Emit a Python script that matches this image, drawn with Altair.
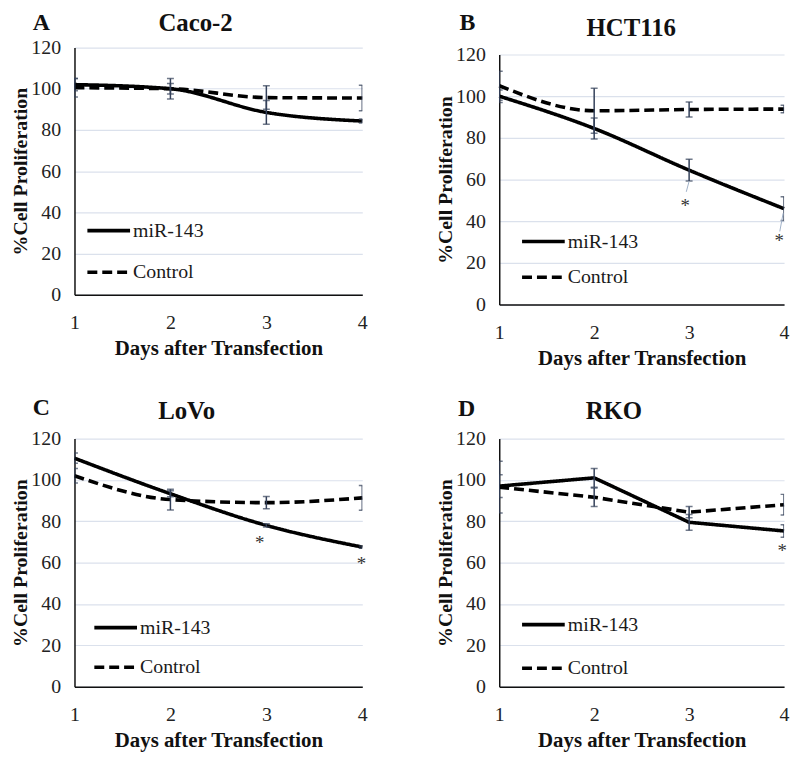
import altair as alt
import pandas as pd

SERIF = "Liberation Serif"
ERR_COLOR = "#34415a"

days = [1, 2, 3, 4]
series_names = ["miR-143", "Control"]
y_ticks = [0, 20, 40, 60, 80, 100, 120]

# Caco-2
caco_mir = [102.0, 100.0, 88.5, 84.3]
caco_mir_err = [3.0, 2.5, 5.8, 1.0]
caco_ctl = [100.5, 100.0, 95.7, 95.5]
caco_ctl_err = [4.5, 5.0, 5.7, 6.2]

# HCT116
hct_mir = [100.0, 84.5, 64.5, 46.0]
hct_mir_err = [3.0, 5.0, 5.2, 5.7]
hct_ctl = [105.0, 93.0, 93.6, 93.8]
hct_ctl_err = [7.0, 10.8, 3.6, 1.8]

# LoVo
lovo_mir = [110.5, 93.3, 78.0, 67.5]
lovo_mir_err = [2.5, 1.5, 0.8, 0.5]
lovo_ctl = [102.0, 90.5, 89.0, 91.3]
lovo_ctl_err = [3.5, 5.0, 3.0, 6.0]

# RKO
rko_mir = [97.0, 101.0, 79.5, 75.3]
rko_mir_err = [5.5, 4.5, 3.8, 3.0]
rko_ctl = [96.5, 91.6, 84.4, 88.0]
rko_ctl_err = [12.5, 4.5, 2.7, 5.0]

# significance marks
star_line = ["HCT116", "HCT116", "LoVo", "LoVo", "RKO"]
star_day = [2.96, 3.95, 2.93, 3.99, 3.98]
star_val = [48.6, 31.9, 71.0, 60.7, 67.0]

# thin leader lines (HCT116)
leader_line = ["HCT116", "HCT116"]
leader_day = [3.0, 3.99]
leader_day2 = [2.97, 3.955]
leader_top = [59.2, 43.8]
leader_bottom = [54.1, 35.1]


def panel(name, letter, mir, mir_err, ctl, ctl_err, interp, width, height, top_gap,
          name_x, name_y, letter_x, letter_y, legend_x, legend_y, legend_gap):
    rows = []
    for s, vals, errs in (("miR-143", mir, mir_err), ("Control", ctl, ctl_err)):
        for d, v, e in zip(days, vals, errs):
            rows.append({"day": d, "value": v, "lo": v - e, "hi": v + e, "series": s})
    df = pd.DataFrame(rows)

    x_axis = alt.Axis(values=days, format="d", title="Days after Transfection", grid=False,
                      ticks=False, tickSize=0, labelPadding=18, titlePadding=5,
                      labelFont=SERIF, labelFontSize=20, labelColor="#222222",
                      titleFont=SERIF, titleFontSize=21, titleFontWeight="bold", titleColor="#111111",
                      domainColor="#111111", domainWidth=1.5, labelFlush=False)
    y_axis = alt.Axis(values=y_ticks, title="%Cell Proliferation", grid=True,
                      gridColor="#dbe1ec", gridWidth=1.2, ticks=False, tickSize=0,
                      labelPadding=14, titlePadding=0,
                      labelFont=SERIF, labelFontSize=20, labelColor="#222222",
                      titleFont=SERIF, titleFontSize=20, titleFontWeight="bold", titleColor="#111111",
                      domainColor="#111111", domainWidth=1.5)
    xs = alt.Scale(domain=[1, 4], nice=False, zero=False)
    ys = alt.Scale(domain=[0, 120], nice=False, range=[height, top_gap])

    base = alt.Chart(df)
    lines = base.mark_line(strokeWidth=3.6, color="black", interpolate=interp).encode(
        x=alt.X("day:Q", scale=xs, axis=x_axis),
        y=alt.Y("value:Q", scale=ys, axis=y_axis),
        strokeDash=alt.StrokeDash(
            "series:N",
            scale=alt.Scale(domain=series_names, range=[[1, 0], [10, 5]]),
            legend=alt.Legend(title=None, orient="none", legendX=legend_x, legendY=legend_y,
                              symbolType="stroke", symbolSize=1849, symbolStrokeWidth=3.6,
                              symbolStrokeColor="black", labelFont=SERIF, labelFontSize=20,
                              labelColor="#1a1a1a", labelOffset=1, rowPadding=legend_gap, padding=0),
        ),
    )
    rules = base.mark_rule(color=ERR_COLOR, strokeWidth=1.5, clip=True).encode(
        x=alt.X("day:Q", scale=xs, title="Days after Transfection"),
        y=alt.Y("lo:Q", scale=ys, title="%Cell Proliferation"),
        y2="hi:Q",
    )
    cap_lo = base.mark_tick(orient="horizontal", size=7, thickness=1.5, color=ERR_COLOR, clip=True).encode(
        x=alt.X("day:Q", scale=xs, title="Days after Transfection"),
        y=alt.Y("lo:Q", scale=ys, title="%Cell Proliferation"),
    )
    cap_hi = base.mark_tick(orient="horizontal", size=7, thickness=1.5, color=ERR_COLOR, clip=True).encode(
        x=alt.X("day:Q", scale=xs, title="Days after Transfection"),
        y=alt.Y("hi:Q", scale=ys, title="%Cell Proliferation"),
    )
    layers = [lines, rules, cap_lo, cap_hi]

    ld = pd.DataFrame({"line": leader_line, "day": leader_day, "day2": leader_day2,
                       "top": leader_top, "bottom": leader_bottom})
    ld = ld[ld["line"] == name]
    if len(ld):
        layers.append(alt.Chart(ld).mark_rule(color="#9fb0c8", strokeWidth=1).encode(
            x=alt.X("day:Q", scale=xs, title="Days after Transfection"),
            x2="day2:Q",
            y=alt.Y("top:Q", scale=ys, title="%Cell Proliferation"),
            y2="bottom:Q",
        ))
    sd = pd.DataFrame({"line": star_line, "day": star_day, "val": star_val})
    sd = sd[sd["line"] == name]
    if len(sd):
        layers.append(alt.Chart(sd).mark_text(text="*", font=SERIF, fontSize=19, color="#333333",
                                              baseline="middle", dy=3).encode(
            x=alt.X("day:Q", scale=xs, title="Days after Transfection"),
            y=alt.Y("val:Q", scale=ys, title="%Cell Proliferation"),
        ))

    layers.append(alt.Chart(pd.DataFrame({"label": [name]})).mark_text(
        font=SERIF, fontSize=25, fontWeight="bold", color="#111111", align="center", baseline="middle"
    ).encode(text="label:N", x=alt.value(name_x), y=alt.value(name_y)))
    layers.append(alt.Chart(pd.DataFrame({"label": [letter]})).mark_text(
        font=SERIF, fontSize=24, fontWeight="bold", color="#111111", align="center", baseline="middle"
    ).encode(text="label:N", x=alt.value(letter_x), y=alt.value(letter_y)))

    return alt.layer(*layers).properties(width=width, height=height)


pA = panel("Caco-2", "A", caco_mir, caco_mir_err, caco_ctl, caco_ctl_err, "monotone", 290, 249, 0,
           122, -24.5, -33.5, -24.5, 11, 161, 8)
pB = panel("HCT116", "B", hct_mir, hct_mir_err, hct_ctl, hct_ctl_err, "monotone", 287, 259, 7,
           133, -20, -32, -24.5, 21, 172, 2)
pC = panel("LoVo", "C", lovo_mir, lovo_mir_err, lovo_ctl, lovo_ctl_err, "monotone", 290, 250, 0,
           113, -28, -33.5, -31.2, 18, 167, 6)
pD = panel("RKO", "D", rko_mir, rko_mir_err, rko_ctl, rko_ctl_err, "linear", 287, 250, 0,
           115.5, -28, -33, -29.7, 21, 164, 10)

row1 = alt.hconcat(pA, pB, spacing=66).resolve_scale(
    x="independent", y="independent", strokeDash="independent").resolve_legend(strokeDash="independent")
row2 = alt.hconcat(pC, pD, spacing=66).resolve_scale(
    x="independent", y="independent", strokeDash="independent").resolve_legend(strokeDash="independent")

chart = alt.vconcat(row1, row2, spacing=27).resolve_scale(
    x="independent", y="independent", strokeDash="independent"
).resolve_legend(strokeDash="independent").properties(
    padding={"left": 3, "top": 0, "right": 0, "bottom": 0}
).configure(font=SERIF).configure_axis(
    labelFont=SERIF, titleFont=SERIF
).configure_legend(labelFont=SERIF).configure_text(font=SERIF).configure_view(strokeWidth=0)

chart.save("out.html", embed_options={"renderer": "svg", "actions": False})
